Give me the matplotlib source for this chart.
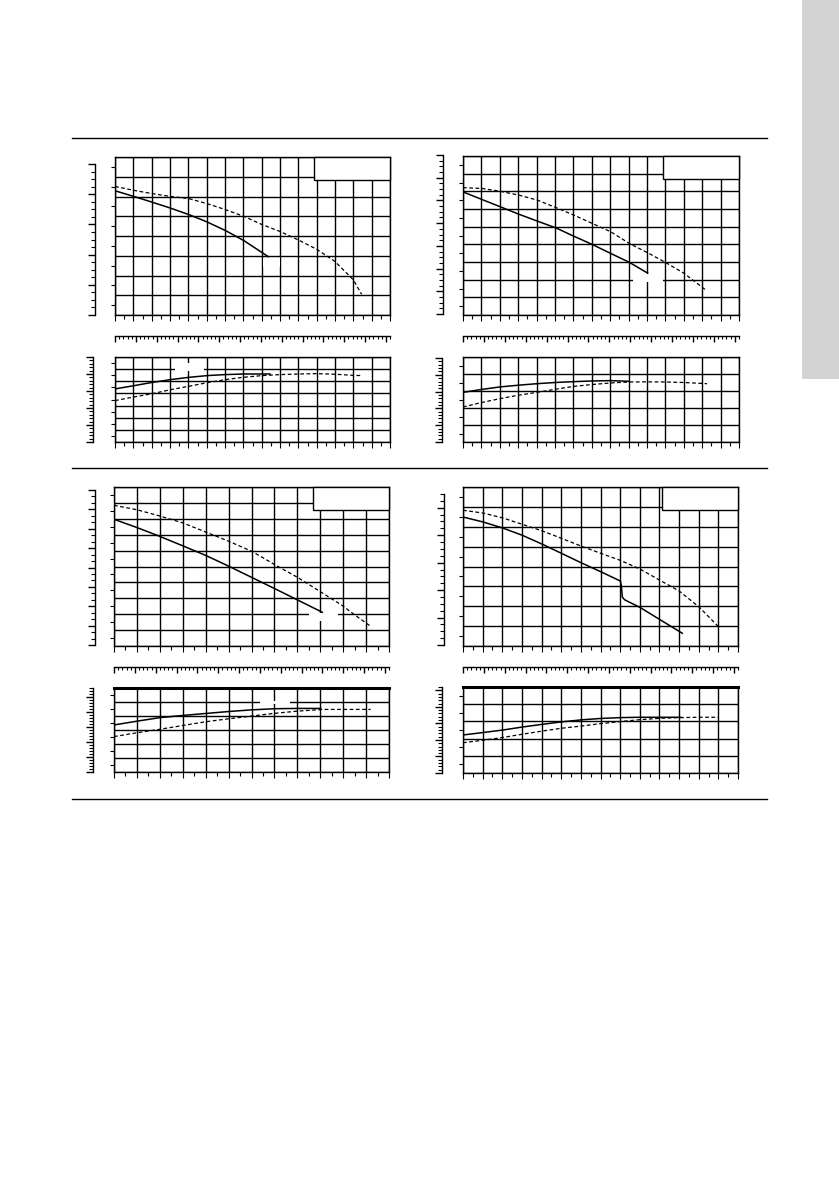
import matplotlib
matplotlib.use('Agg')
import matplotlib.pyplot as plt
from matplotlib.patches import Rectangle
from matplotlib.lines import Line2D
from matplotlib.ticker import MultipleLocator

# ---------------- data (values in grid units) ----------------
# Top-left pump: head curves (upper panel) and efficiency/power curves (lower panel)
tl_h_solid_q = [0, 1.04, 2.0, 3.0, 4.04, 5.0, 6.04, 7.04, 8.04, 8.4]
tl_h_solid_v = [6.29, 6.0, 5.72, 5.42, 5.08, 4.72, 4.27, 3.76, 3.15, 2.93]
tl_h_dash_q = [0, 1.04, 2.0, 3.04, 4.04, 5.05, 6.04, 7.04, 8.04, 9.0, 10.0, 11.0, 12.0, 13.0, 13.45]
tl_h_dash_v = [6.51, 6.31, 6.15, 6.0, 5.89, 5.63, 5.33, 4.99, 4.57, 4.23, 3.8, 3.33, 2.71, 1.78, 1.05]
tl_e_solid_q = [0, 1.04, 2.0, 3.04, 4.0, 5.04, 6.0, 7.04, 8.5]
tl_e_solid_v = [4.37, 4.64, 4.9, 5.14, 5.32, 5.47, 5.55, 5.6, 5.6]
tl_e_dash_q = [0, 1.0, 2.04, 3.0, 4.04, 5.0, 6.04, 7.0, 8.04, 9.0, 10.0, 11.0, 12.0, 13.0, 13.45]
tl_e_dash_v = [3.41, 3.7, 3.98, 4.3, 4.59, 4.88, 5.14, 5.33, 5.47, 5.55, 5.6, 5.63, 5.58, 5.49, 5.47]

# Top-right pump
tr_h_solid_q = [0, 1.0, 2.04, 3.0, 4.0, 5.05, 6.0, 7.03, 8.0, 9.04, 10.07]
tr_h_solid_v = [6.97, 6.55, 6.12, 5.72, 5.33, 4.93, 4.47, 3.99, 3.5, 2.98, 2.35]
tr_h_dash_q = [0, 1.05, 2.04, 3.06, 4.05, 5.05, 6.04, 7.03, 8.03, 9.04, 10.04, 11.03, 12.03, 13.2]
tr_h_dash_v = [7.21, 7.16, 7.0, 6.78, 6.5, 6.08, 5.65, 5.18, 4.71, 4.05, 3.52, 2.96, 2.35, 1.41]
tr_e_solid_q = [0, 1.0, 2.01, 3.0, 4.02, 5.0, 6.01, 7.0, 8.0, 9.02]
tr_e_solid_v = [2.92, 3.09, 3.24, 3.34, 3.43, 3.5, 3.55, 3.59, 3.61, 3.57]
tr_e_dash_q = [0, 1.0, 2.01, 3.0, 4.02, 5.0, 6.01, 7.0, 8.0, 9.02, 10.0, 11.01, 12.0, 13.26]
tr_e_dash_v = [2.06, 2.32, 2.55, 2.75, 2.92, 3.1, 3.27, 3.38, 3.47, 3.53, 3.54, 3.53, 3.5, 3.43]

# Bottom-left pump
bl_h_solid_q = [0, 1.0, 1.99, 3.0, 4.0, 5.02, 6.0, 7.01, 8.03, 9.12]
bl_h_solid_v = [7.97, 7.45, 6.9, 6.3, 5.7, 5.01, 4.32, 3.61, 2.88, 2.1]
bl_h_dash_q = [0, 1.0, 1.99, 3.01, 4.0, 5.02, 6.02, 7.01, 8.03, 9.02, 9.99, 10.47, 11.2]
bl_h_dash_v = [8.85, 8.57, 8.18, 7.74, 7.17, 6.58, 5.95, 5.12, 4.3, 3.4, 2.52, 1.99, 1.24]
bl_e_solid_q = [0, 1.0, 1.99, 3.0, 4.0, 5.0, 6.02, 7.01, 8.0, 9.05]
bl_e_solid_v = [3.36, 3.63, 3.88, 4.04, 4.18, 4.32, 4.44, 4.52, 4.54, 4.54]
bl_e_dash_q = [0, 1.0, 1.99, 3.0, 4.0, 5.0, 6.02, 7.0, 8.03, 9.12, 10.0, 11.2]
bl_e_dash_v = [2.53, 2.8, 3.05, 3.32, 3.59, 3.8, 4.0, 4.19, 4.35, 4.47, 4.47, 4.47]

# Bottom-right pump
br_h_solid_q = [0, 1.02, 2.04, 3.02, 4.04, 5.06, 6.03, 7.05, 8.01, 8.06, 8.11, 8.22, 9.03, 10.02, 11.2]
br_h_solid_v = [6.49, 6.24, 5.93, 5.57, 5.12, 4.64, 4.18, 3.72, 3.27, 3.05, 2.47, 2.33, 1.93, 1.33, 0.62]
br_h_dash_q = [0, 1.02, 2.04, 3.02, 4.04, 5.06, 6.03, 7.05, 8.01, 9.03, 10.02, 11.0, 12.02, 12.99]
br_h_dash_v = [6.83, 6.69, 6.44, 6.12, 5.79, 5.4, 5.02, 4.65, 4.31, 3.86, 3.31, 2.77, 1.96, 0.99]
br_e_solid_q = [0, 1.0, 2.04, 3.0, 4.04, 5.0, 6.03, 7.0, 8.01, 9.0, 10.02, 11.12]
br_e_solid_v = [2.21, 2.35, 2.5, 2.67, 2.83, 2.97, 3.09, 3.17, 3.22, 3.24, 3.24, 3.24]
br_e_dash_q = [0, 1.0, 2.04, 3.0, 4.04, 5.0, 6.03, 7.0, 8.01, 9.0, 10.02, 11.0, 12.0, 13.0]
br_e_dash_v = [1.76, 1.9, 2.07, 2.25, 2.44, 2.6, 2.73, 2.87, 2.99, 3.1, 3.18, 3.22, 3.24, 3.24]

# ---------------- figure ----------------
W, H = 839, 1191
fig = plt.figure(figsize=(W / 100, H / 100), dpi=100)


def px_axes(x0, y0, x1, y1):
    return fig.add_axes([x0 / W, 1 - y1 / H, (x1 - x0) / W, (y1 - y0) / H])


def grid_panel(rect, nx, ny, curves, blanks=(), legend_box=False, thick_top=False):
    ax = px_axes(*rect)
    ax.set_xlim(0, nx)
    ax.set_ylim(0, ny)
    ax.xaxis.set_major_locator(MultipleLocator(1))
    ax.xaxis.set_minor_locator(MultipleLocator(0.5))
    ax.yaxis.set_major_locator(MultipleLocator(1))
    ax.yaxis.set_minor_locator(MultipleLocator(0.5))
    ax.grid(True, which='major', color='black', lw=1.0)
    ax.set_axisbelow(True)
    ax.tick_params(which='both', direction='out', colors='black',
                   labelleft=False, labelbottom=False, width=0.8)
    ax.tick_params(axis='x', which='major', length=4)
    ax.tick_params(axis='x', which='minor', length=3)
    ax.tick_params(axis='y', which='major', length=0)
    ax.tick_params(axis='y', which='minor', length=3)
    for s in ax.spines.values():
        s.set_linewidth(1.0)
    if thick_top:
        ax.spines['top'].set_linewidth(2.2)
    for (bx0, by0, bx1, by1) in blanks:
        ax.add_patch(Rectangle((bx0, by0), bx1 - bx0, by1 - by0, facecolor='white',
                               edgecolor='none', zorder=3))
    for q, v, style in curves:
        if style == 'solid':
            ax.plot(q, v, color='black', lw=1.1, zorder=4, solid_capstyle='butt',
                    solid_joinstyle='round')
        else:
            ax.plot(q, v, color='black', lw=0.9, ls=(0, (3, 2)), zorder=4)
    if legend_box:
        ax.add_patch(Rectangle((0.724, 0.855), 0.276, 0.145, transform=ax.transAxes,
                               facecolor='white', edgecolor='black', lw=1.0,
                               zorder=5, clip_on=False))
    return ax


def outer_y(x, y0, y1, n_minor, major_every):
    ax = px_axes(x, y0, x + 1, y1)
    ax.set_ylim(0, n_minor)
    ax.set_xticks([])
    ax.yaxis.set_major_locator(MultipleLocator(major_every))
    ax.yaxis.set_minor_locator(MultipleLocator(1))
    for side in ['top', 'right', 'bottom']:
        ax.spines[side].set_visible(False)
    ax.spines['left'].set_linewidth(1.0)
    ax.patch.set_visible(False)
    ax.tick_params(axis='y', which='major', length=5, width=1.0, direction='out', labelleft=False)
    ax.tick_params(axis='y', which='minor', length=3, width=0.8, direction='out')


def outer_x(x0, x1, y, n_minor, major_every):
    ax = px_axes(x0, y - 1, x1, y)
    ax.set_xlim(0, n_minor)
    ax.set_yticks([])
    ax.xaxis.set_major_locator(MultipleLocator(major_every))
    ax.xaxis.set_minor_locator(MultipleLocator(1))
    for side in ['top', 'right', 'left']:
        ax.spines[side].set_visible(False)
    ax.spines['bottom'].set_linewidth(1.0)
    ax.patch.set_visible(False)
    ax.tick_params(axis='x', which='major', length=4, width=1.0, direction='out', labelbottom=False)
    ax.tick_params(axis='x', which='minor', length=2.5, width=0.8, direction='out')


# ---- Top-left ----
grid_panel((115, 157, 390, 315), 15, 8,
           [(tl_h_solid_q, tl_h_solid_v, 'solid'), (tl_h_dash_q, tl_h_dash_v, 'dash')],
           blanks=[(8.05, 2.45, 9.0, 2.9)], legend_box=True)
outer_y(95, 164, 315, 20, 4)
outer_x(115, 390, 336, 66, 5)
grid_panel((115, 357, 390, 442), 15, 7,
           [(tl_e_solid_q, tl_e_solid_v, 'solid'), (tl_e_dash_q, tl_e_dash_v, 'dash')],
           blanks=[(3.25, 5.85, 4.85, 6.5)])
outer_y(93, 357, 442, 25, 5)

# ---- Top-right ----
grid_panel((463, 156, 739, 315), 15, 9,
           [(tr_h_solid_q, tr_h_solid_v, 'solid'), (tr_h_dash_q, tr_h_dash_v, 'dash')],
           blanks=[(9.26, 1.88, 10.85, 2.3)], legend_box=True)
outer_y(443, 155, 314, 28, 4)
outer_x(463, 739, 336, 66, 5)
grid_panel((463, 357, 739, 442), 15, 5,
           [(tr_e_solid_q, tr_e_solid_v, 'solid'), (tr_e_dash_q, tr_e_dash_v, 'dash')])
outer_y(442, 358, 442, 25, 5)

# ---- Bottom-left ----
grid_panel((114, 487, 389, 646), 12, 10,
           [(bl_h_solid_q, bl_h_solid_v, 'solid'), (bl_h_dash_q, bl_h_dash_v, 'dash')],
           blanks=[(8.51, 1.6, 9.77, 2.05)], legend_box=True)
outer_y(95, 490, 645, 24, 3)
outer_x(114, 389, 667, 66, 5)
grid_panel((114, 688, 389, 772), 12, 6,
           [(bl_e_solid_q, bl_e_solid_v, 'solid'), (bl_e_dash_q, bl_e_dash_v, 'dash')],
           blanks=[(6.36, 4.85, 7.67, 5.1)], thick_top=True)
outer_y(93, 688, 772, 28, 5)

# ---- Bottom-right ----
grid_panel((463, 487, 738, 646), 14, 8,
           [(br_h_solid_q, br_h_solid_v, 'solid'), (br_h_dash_q, br_h_dash_v, 'dash')],
           legend_box=True)
outer_y(444, 494, 645, 22, 4)
outer_x(463, 738, 667, 66, 5)
grid_panel((463, 687, 738, 773), 14, 5,
           [(br_e_solid_q, br_e_solid_v, 'solid'), (br_e_dash_q, br_e_dash_v, 'dash')],
           thick_top=True)
outer_y(442, 687, 773, 26, 5)

# ---- page decorations ----
for yy in (138, 468, 799):
    fig.add_artist(Line2D([72 / W, 767 / W], [1 - yy / H, 1 - yy / H],
                          color='black', lw=1.0, transform=fig.transFigure))
fig.add_artist(Rectangle((802 / W, 1 - 379 / H), 37 / W, 379 / H, facecolor='#d3d3d3',
                         edgecolor='none', transform=fig.transFigure))

fig.savefig('out.png', dpi=100)
